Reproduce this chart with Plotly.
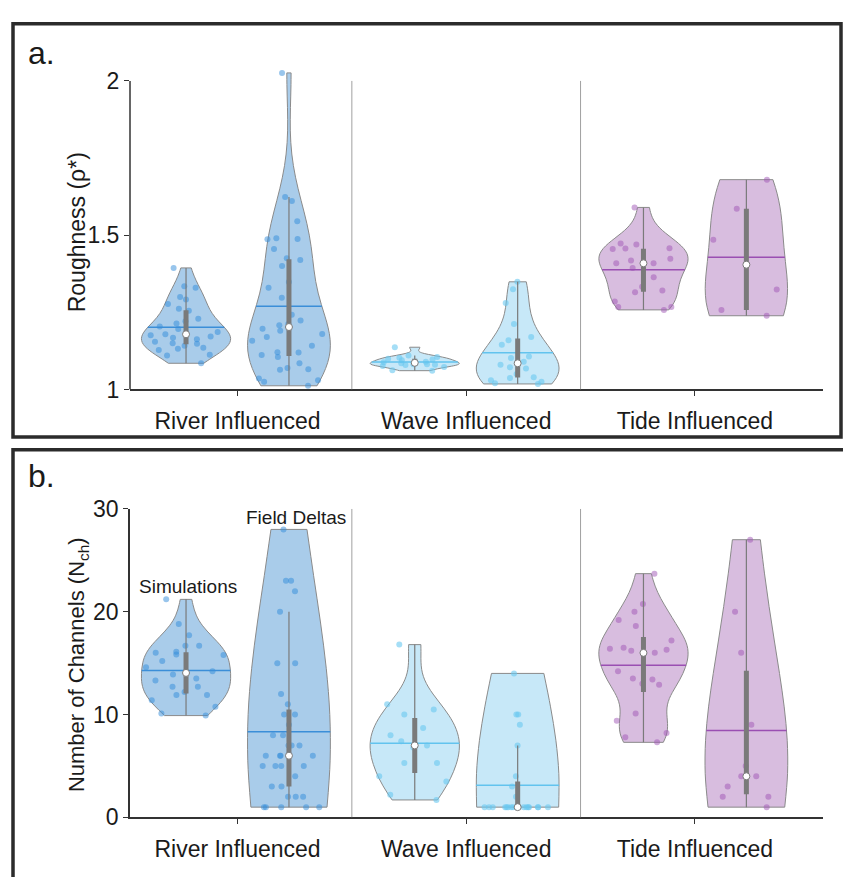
import numpy as np
import plotly.graph_objects as go

# ---------------- data ----------------
groups = ["River Influenced", "Wave Influenced", "Tide Influenced"]
group_pos = [1, 2, 3]

# Panel a: Roughness (rho*)
rough_river_sim = [1.394, 1.335, 1.330, 1.300, 1.292, 1.277, 1.262, 1.255, 1.229, 1.221,
                   1.214, 1.204, 1.196, 1.186, 1.179, 1.176, 1.172, 1.168, 1.163, 1.155,
                   1.150, 1.148, 1.142, 1.135, 1.132, 1.128, 1.113, 1.110, 1.085]
rough_river_field = [1.012, 1.025, 1.030, 1.036, 1.064, 1.066, 1.070, 1.085, 1.105, 1.112,
                     1.120, 1.121, 1.142, 1.158, 1.170, 1.180, 1.190, 1.197, 1.208, 1.212,
                     1.224, 1.242, 1.297, 1.330, 1.348, 1.400, 1.420, 1.425, 1.455, 1.487,
                     1.488, 1.490, 1.545, 1.611, 1.624, 2.026]
rough_wave_sim = [1.137, 1.110, 1.105, 1.103, 1.100, 1.097, 1.095, 1.090, 1.088, 1.085,
                  1.082, 1.082, 1.080, 1.079, 1.076, 1.073, 1.062, 1.061]
rough_wave_field = [1.349, 1.280, 1.212, 1.170, 1.160, 1.145, 1.107, 1.102, 1.090, 1.080,
                    1.072, 1.068, 1.050, 1.040, 1.037, 1.030, 1.025, 1.020, 1.018, 1.325]
rough_tide_sim = [1.590, 1.473, 1.470, 1.458, 1.457, 1.455, 1.424, 1.418, 1.409, 1.409,
                  1.394, 1.364, 1.333, 1.321, 1.315, 1.285, 1.267, 1.267, 1.258]
rough_tide_field = [1.680, 1.586, 1.485, 1.324, 1.258, 1.239]

# Panel b: Number of channels (N_ch)
nch_river_sim = [21.2, 18.8, 17.7, 16.7, 16.7, 16.1, 16.0, 15.85, 15.8, 15.2, 14.6, 14.2,
                 13.9, 13.5, 13.3, 12.7, 12.7, 12.2, 11.9, 11.9, 11.4, 10.75, 10.1, 9.9]
nch_river_field = [28, 23, 23, 22, 20, 15, 15, 12, 11, 10, 10, 9, 8, 8, 7, 7, 7, 6, 6, 6, 6,
                   5, 5, 5, 5, 4, 3, 3, 2, 2, 2, 1, 1, 1, 1, 1]
nch_wave_sim = [16.8, 11.0, 10.5, 10.0, 8.7, 8.0, 7.4, 7.0, 6.8, 5.3, 5.3, 4.0, 3.5, 2.2, 1.7]
nch_wave_field = [14, 10, 10, 9, 7, 4, 3, 2, 1, 1, 1, 1, 1, 1, 1, 1, 1, 1, 1, 1, 1, 1, 1, 1]
nch_tide_sim = [23.7, 20.75, 20.0, 19.2, 18.6, 17.2, 16.5, 16.4, 16.3, 16.2, 16.0, 14.2,
                13.5, 13.4, 13.0, 12.9, 10.1, 9.4, 8.2, 7.8, 7.3]
nch_tide_field = [27, 20, 16, 9, 5, 4, 4, 3, 2, 2, 1]

# ---------------- styles ----------------
W, H = 843, 877
FONT = "Liberation Sans, Arial, sans-serif"
styles = {
    "river": dict(fill="#A9CCEA", pts="rgba(50,140,218,0.50)", mean="#3B8ED8"),
    "wave": dict(fill="#C7E8F8", pts="rgba(105,200,240,0.60)", mean="#62C3EE"),
    "tide": dict(fill="#D8BDDF", pts="rgba(160,85,182,0.50)", mean="#9A4FB2"),
}
OUTLINE = "#8a8a8a"
BOXC = "#7a7a7a"
OFFSET = 0.225
SIM_W, FIELD_W = 0.39, 0.36
# kernel smoothing overrides (None -> Silverman rule)
BW = {"rough_wave_field": 0.065, "nch_river_field": 14.0, "nch_wave_field": 11.0,
      "nch_tide_field": 10.0}


def px_x(p):
    return p / W


def px_y(p):
    return 1 - p / H


def silverman(arr):
    n = len(arr)
    ssd = np.std(arr, ddof=1)
    q1, q3 = np.quantile(arr, [0.25, 0.75])
    return max(1.059 * min(ssd, (q3 - q1) / 1.349) * n ** -0.2, (arr.max() - arr.min()) / 100)


def kde(arr, bw, t):
    t = np.atleast_1d(t)[:, None]
    return np.exp(-0.5 * ((t - arr[None, :]) / bw) ** 2).sum(axis=1) / (np.sqrt(2 * np.pi) * len(arr) * bw)


fig = go.Figure()


def add_violin(vals, xpos, width, st, xa, ya, name):
    arr = np.asarray(vals, dtype=float)
    bw = BW.get(name) or silverman(arr)
    fig.add_trace(go.Violin(
        x=[xpos] * len(arr), y=arr, xaxis=xa, yaxis=ya, width=width, bandwidth=bw,
        spanmode="hard", scalemode="width", points="all", pointpos=0, jitter=0.95,
        fillcolor=st["fill"], line=dict(color=OUTLINE, width=1),
        marker=dict(size=6, color=st["pts"], line=dict(width=0)),
        meanline=dict(visible=False), box=dict(visible=False),
        showlegend=False, hoverinfo="skip"))
    # mean line across the violin (same density scaling as plotly)
    dist = arr.max() - arr.min()
    n = int(np.ceil(dist / (bw / 3)))
    grid = arr.min() + np.arange(n + 1) * dist / n
    maxk = kde(arr, bw, grid).max()
    mean = arr.mean()
    hw = (width / 2) * kde(arr, bw, mean)[0] / maxk
    fig.add_trace(go.Scatter(x=[xpos - hw, xpos + hw], y=[mean, mean], xaxis=xa, yaxis=ya,
                             mode="lines", line=dict(color=st["mean"], width=1.5),
                             showlegend=False, hoverinfo="skip"))
    q1, med, q3 = np.quantile(arr, [0.25, 0.5, 0.75], method="hazen")
    iqr = q3 - q1
    lo = arr[arr >= q1 - 1.5 * iqr].min()
    hi = arr[arr <= q3 + 1.5 * iqr].max()
    fig.add_trace(go.Scatter(x=[xpos, xpos], y=[lo, hi], xaxis=xa, yaxis=ya, mode="lines",
                             line=dict(color=BOXC, width=1.2), showlegend=False, hoverinfo="skip"))
    fig.add_trace(go.Scatter(x=[xpos, xpos], y=[q1, q3], xaxis=xa, yaxis=ya, mode="lines",
                             line=dict(color=BOXC, width=5), showlegend=False, hoverinfo="skip"))
    fig.add_trace(go.Scatter(x=[xpos], y=[med], xaxis=xa, yaxis=ya, mode="markers",
                             marker=dict(color="white", size=7, line=dict(color=BOXC, width=1)),
                             showlegend=False, hoverinfo="skip"))


panel_a = [(rough_river_sim, rough_river_field, "river"),
           (rough_wave_sim, rough_wave_field, "wave"),
           (rough_tide_sim, rough_tide_field, "tide")]
panel_b = [(nch_river_sim, nch_river_field, "river"),
           (nch_wave_sim, nch_wave_field, "wave"),
           (nch_tide_sim, nch_tide_field, "tide")]

for g, (s, f, key) in zip(group_pos, panel_a):
    add_violin(s, g - OFFSET, SIM_W, styles[key], "x", "y", f"rough_{key}_sim")
    add_violin(f, g + OFFSET, FIELD_W, styles[key], "x", "y", f"rough_{key}_field")
for g, (s, f, key) in zip(group_pos, panel_b):
    add_violin(s, g - OFFSET, SIM_W, styles[key], "x2", "y2", f"nch_{key}_sim")
    add_violin(f, g + OFFSET, FIELD_W, styles[key], "x2", "y2", f"nch_{key}_field")

XRANGE = [0.53, 3.56]
xdom = [px_x(130), px_x(823)]
axis_font = dict(family=FONT, size=23, color="#1a1a1a")

xcommon = dict(range=XRANGE, domain=xdom, showgrid=False, zeroline=False, showline=True,
               linecolor="#333333", linewidth=1.5, ticks="outside", ticklen=5,
               tickcolor="#333333", tickvals=group_pos, ticktext=groups,
               tickfont=axis_font, ticklabelstandoff=5, fixedrange=True)
ycommon = dict(showgrid=False, zeroline=False, ticks="outside", ticklen=5,
               tickcolor="#333333", tickfont=dict(family=FONT, size=23, color="#1a1a1a"),
               fixedrange=True)

fig.update_layout(
    width=W, height=H, margin=dict(l=0, r=0, t=0, b=0),
    paper_bgcolor="white", plot_bgcolor="white", violinmode="overlay",
    font=dict(family=FONT, color="#1a1a1a"),
    xaxis=dict(**xcommon, anchor="y"),
    yaxis=dict(**ycommon, anchor="x", range=[1, 2.05], domain=[px_y(388), px_y(54.1)],
               tickvals=[1, 1.5, 2], ticktext=["1", "1.5", "2"], showline=False),
    xaxis2=dict(**xcommon, anchor="y2"),
    yaxis2=dict(**ycommon, anchor="x2", range=[0, 30], domain=[px_y(829), px_y(511)],
                tickvals=[0, 10, 20, 30], showline=True, linecolor="#333333", linewidth=1.5),
)

shapes = []
# y axis line of panel a (ends at 2)
shapes.append(dict(type="line", xref="x domain", yref="y", x0=0, x1=0, y0=1, y1=2,
                   line=dict(color="#333333", width=1.5)))
# group separators
for xs in [1.5, 2.5]:
    shapes.append(dict(type="line", xref="x", yref="y", x0=xs, x1=xs, y0=1, y1=2,
                       line=dict(color="#a0a0a0", width=1)))
    shapes.append(dict(type="line", xref="x2", yref="y2", x0=xs, x1=xs, y0=0, y1=30,
                       line=dict(color="#a0a0a0", width=1)))
# panel frames
shapes.append(dict(type="rect", xref="paper", yref="paper", x0=px_x(13), x1=px_x(841),
                   y0=px_y(437), y1=px_y(11), line=dict(color="#2b2b2b", width=3.5)))
shapes.append(dict(type="rect", xref="paper", yref="paper", x0=px_x(13), x1=px_x(855),
                   y0=px_y(895), y1=px_y(450), line=dict(color="#2b2b2b", width=3.5)))
fig.update_layout(shapes=shapes)

ann = [
    dict(text="a.", x=px_x(26), y=px_y(41), xanchor="left", yanchor="middle", font=dict(size=32)),
    dict(text="b.", x=px_x(26), y=px_y(477), xanchor="left", yanchor="middle", font=dict(size=32)),
    dict(text="Roughness (ρ*)", x=px_x(77), y=px_y(226), textangle=-90,
         xanchor="center", yanchor="middle", font=dict(size=23)),
    dict(text="Number of Channels (N<sub>ch</sub>)", x=px_x(78), y=px_y(672), textangle=-90,
         xanchor="center", yanchor="middle", font=dict(size=22)),
    dict(text="Simulations", x=px_x(188), y=px_y(591), xanchor="center", yanchor="middle",
         font=dict(size=19)),
    dict(text="Field Deltas", x=px_x(296), y=px_y(520), xanchor="center", yanchor="middle",
         font=dict(size=19)),
]
for a in ann:
    a.update(xref="paper", yref="paper", showarrow=False)
    a["font"].update(family=FONT, color="#1a1a1a")
fig.update_layout(annotations=ann)

fig.write_html("out.html")
